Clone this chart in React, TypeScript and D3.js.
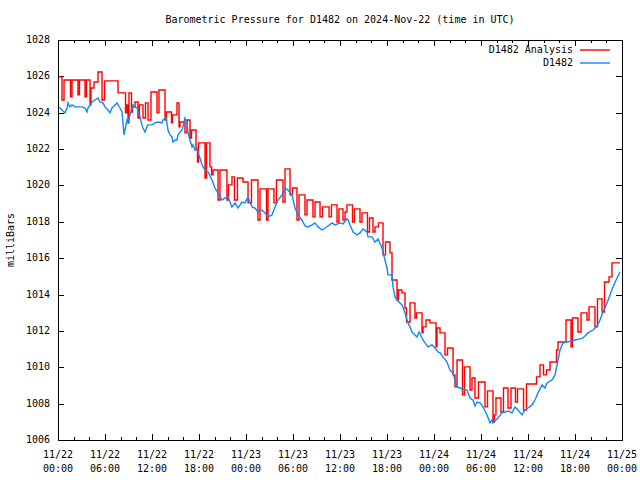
import React from "react";
import * as d3 from "d3";

const titleText = "Barometric Pressure for D1482 on 2024-Nov-22 (time in UTC)";
const yAxisLabel = "milliBars";
const seriesNames = ["D1482 Analysis", "D1482"];
const seriesColors = ["#ff0000", "#0f87ff"];

const xTickDates = ["11/22", "11/22", "11/22", "11/22", "11/23", "11/23", "11/23", "11/23", "11/24", "11/24", "11/24", "11/24", "11/25"];
const xTickTimes = ["00:00", "06:00", "12:00", "18:00", "00:00", "06:00", "12:00", "18:00", "00:00", "06:00", "12:00", "18:00", "00:00"];
const yTicks = [1006, 1008, 1010, 1012, 1014, 1016, 1018, 1020, 1022, 1024, 1026, 1028];

// hours since 2024-11-22 00:00 UTC
const redHours = [
  0, 0.51, 0.77, 1.6, 1.79, 2.55, 2.74, 3.45, 3.64, 4.09, 4.21, 4.6, 5.11, 5.62, 5.94, 7.66, 8.62, 8.81, 8.94, 9.06,
  9.38, 9.51, 9.83, 10.21, 10.4, 10.85, 11.17, 11.49, 11.87, 12.64, 12.89, 13.66, 13.85, 14.49, 14.62, 15.19, 15.45, 15.57, 16.21, 16.47,
  16.85, 17.04, 17.62, 17.81, 17.94, 18.77, 18.96, 19.4, 19.6, 19.79, 20.43, 20.68, 21.57, 21.77, 22.21, 22.53, 22.91, 23.62, 24.26, 24.7,
  25.53, 25.79, 26.62, 26.81, 27.57, 27.89, 28.72, 28.98, 29.62, 29.94, 30.51, 30.77, 31.53, 31.79, 32.55, 32.81, 33.45, 33.77, 34.6, 34.91,
  35.62, 35.87, 36.38, 36.64, 36.89, 37.6, 37.85, 38.55, 38.81, 39.51, 39.77, 40.21, 40.47, 40.91, 41.49, 41.81, 42.38, 42.64, 43.28, 43.47,
  43.91, 44.3, 44.49, 44.94, 45.57, 45.77, 46.47, 46.6, 46.98, 47.49, 48.26, 48.38, 48.77, 49.4, 49.72, 50.43, 50.68, 50.94, 51.64, 51.89,
  52.6, 52.85, 53.23, 53.68, 54.51, 54.83, 55.53, 55.72, 55.91, 56.55, 56.87, 57.45, 57.83, 58.4, 58.66, 59.43, 59.81, 61.09, 61.53, 61.98,
  62.36, 62.81, 63.64, 63.83, 64.85, 65.49, 65.68, 66.38, 66.77, 67.53, 67.79, 68.55, 68.87, 69.45, 69.77, 70.34, 70.72, 71.74,
];
const redValues = [
  1025.97, 1024.7, 1025.8, 1024.87, 1025.8, 1024.98, 1025.8, 1024.87, 1025.8, 1024.43, 1025.36, 1025.69, 1026.24, 1024.7, 1025.75, 1025.09, 1023.99, 1024.43, 1023.44, 1025.09,
  1024.04, 1024.32, 1024.59, 1023.71, 1024.43, 1023.71, 1024.54, 1023.6, 1025.14, 1023.99, 1025.25, 1023.6, 1024.04, 1023.44, 1023.88, 1024.54, 1023.22, 1023.49, 1022.89, 1023.6,
  1022.61, 1023.05, 1021.95, 1021.29, 1022.34, 1020.41, 1022.34, 1021.02, 1020.58, 1020.85, 1019.2, 1020.85, 1019.2, 1020.03, 1020.47, 1019.2, 1020.41, 1020.19, 1019.04, 1020.3,
  1018.1, 1019.81, 1018.1, 1019.81, 1019.04, 1020.3, 1019.09, 1020.91, 1019.48, 1019.86, 1018.1, 1019.48, 1018.38, 1019.2, 1018.27, 1019.09, 1018.27, 1018.82, 1018.27, 1018.93,
  1017.99, 1018.71, 1018.1, 1018.54, 1018.93, 1017.99, 1018.71, 1017.99, 1018.49, 1017.44, 1018.21, 1017.44, 1017.72, 1017.94, 1016.18, 1016.89, 1016.29, 1014.8, 1013.7, 1014.25,
  1014.09, 1013.26, 1012.49, 1013.54, 1012.71, 1012.99, 1011.89, 1012.22, 1012.6, 1012.44, 1011.12, 1012.16, 1011.89, 1010.68, 1011.06, 1009.58, 1008.92, 1010.4, 1008.48, 1010.02,
  1008.75, 1009.41, 1008.31, 1009.19, 1007.82, 1008.7, 1006.99, 1007.38, 1008.31, 1007.54, 1008.86, 1007.76, 1008.86, 1008.09, 1008.81, 1007.65, 1009.08, 1009.47, 1010.13, 1009.58,
  1009.85, 1010.29, 1010.95, 1011.39, 1012.6, 1011.12, 1012.71, 1011.94, 1012.99, 1012.6, 1013.32, 1012.22, 1013.76, 1013.04, 1014.69, 1014.97, 1015.74, 1015.74,
];

const blueHours = [
  0, 0.26, 0.51, 0.89, 1.15, 1.28, 1.53, 1.79, 2.17, 3.06, 3.45, 3.7, 3.83, 4.09, 4.34, 4.72, 5.11, 5.36, 5.74, 6.0,
  6.38, 6.64, 6.89, 7.28, 7.53, 7.91, 8.17, 8.43, 8.81, 8.94, 9.19, 9.45, 9.57, 9.83, 10.09, 10.21, 10.47, 10.72, 10.85, 11.11,
  11.36, 11.49, 12.0, 12.38, 12.77, 13.28, 13.4, 13.79, 13.91, 14.04, 14.3, 14.55, 14.68, 14.94, 15.19, 15.32, 15.83, 15.96, 16.21, 16.47,
  16.6, 16.85, 17.11, 17.23, 17.49, 17.74, 17.87, 18.13, 18.38, 18.77, 19.15, 19.66, 20.04, 20.43, 20.94, 21.32, 21.7, 22.21, 22.6, 22.98,
  23.49, 23.87, 24.26, 24.77, 25.15, 25.53, 26.04, 26.43, 26.81, 27.32, 27.7, 28.09, 28.6, 28.98, 29.36, 29.87, 30.26, 30.64, 31.15, 31.53,
  31.91, 32.43, 32.81, 33.19, 33.7, 34.09, 34.47, 34.98, 35.36, 36.0, 36.38, 36.89, 37.02, 37.28, 37.66, 38.17, 38.55, 38.94, 39.45, 39.57,
  40.09, 40.47, 40.85, 41.36, 41.49, 41.74, 42.0, 42.13, 42.64, 42.77, 43.02, 43.28, 43.53, 43.91, 44.04, 44.3, 44.55, 44.68, 44.94, 45.19,
  45.57, 45.83, 46.09, 46.47, 46.6, 46.85, 47.23, 47.74, 48.13, 48.51, 48.77, 49.15, 49.66, 50.04, 50.43, 50.94, 51.32, 51.7, 52.21, 52.6,
  52.98, 53.23, 53.49, 53.87, 54.26, 54.77, 55.15, 55.4, 55.53, 55.79, 56.17, 56.68, 57.06, 57.45, 57.96, 58.34, 58.72, 59.23, 59.62, 60.0,
  60.51, 60.89, 61.28, 61.79, 62.17, 62.43, 63.06, 63.45, 63.83, 64.09, 64.47, 64.98, 65.62, 66.0, 66.64, 67.02, 67.66, 68.3, 68.81, 69.19,
  69.57, 70.09, 70.47, 70.85, 71.36, 71.74,
];
const blueValues = [
  1024.32, 1024.26, 1024.15, 1023.99, 1024.26, 1024.54, 1024.32, 1024.43, 1024.32, 1024.32, 1024.26, 1024.04, 1024.26, 1024.43, 1024.59, 1024.7, 1024.81, 1024.59, 1024.54, 1024.32,
  1024.15, 1023.99, 1024.26, 1024.43, 1024.54, 1024.26, 1024.04, 1022.78, 1023.6, 1023.49, 1023.88, 1024.26, 1024.43, 1024.32, 1024.26, 1024.15, 1023.77, 1023.33, 1023.16, 1022.94,
  1023.22, 1023.33, 1023.33, 1023.44, 1023.49, 1023.44, 1023.6, 1023.71, 1023.44, 1023.05, 1022.78, 1022.67, 1022.39, 1022.5, 1022.5, 1022.78, 1023.05, 1023.22, 1023.71, 1023.44,
  1022.89, 1022.5, 1022.12, 1022.23, 1021.95, 1022.06, 1021.79, 1021.51, 1021.13, 1020.85, 1020.74, 1020.3, 1019.86, 1019.59, 1019.2, 1019.31, 1019.37, 1018.82, 1019.04, 1018.76,
  1019.09, 1019.04, 1019.37, 1018.82, 1018.76, 1018.54, 1018.65, 1018.49, 1018.27, 1018.38, 1018.82, 1019.2, 1019.48, 1019.86, 1019.75, 1019.48, 1018.76, 1018.38, 1018.1, 1017.77,
  1017.72, 1017.83, 1017.94, 1017.72, 1017.55, 1017.66, 1017.77, 1017.94, 1017.83, 1017.94, 1017.88, 1018.16, 1018.1, 1017.83, 1017.44, 1017.28, 1017.39, 1017.61, 1017.44, 1017.17,
  1017.17, 1016.89, 1017.06, 1016.56, 1016.34, 1015.9, 1015.46, 1015.08, 1015.08, 1014.42, 1013.87, 1013.7, 1013.59, 1013.43, 1013.32, 1012.99, 1012.6, 1012.44, 1012.22, 1011.94,
  1011.78, 1011.67, 1011.94, 1011.61, 1011.5, 1011.34, 1011.12, 1011.23, 1011.06, 1010.84, 1010.79, 1010.57, 1010.29, 1009.85, 1009.69, 1008.92, 1008.86, 1008.81, 1008.75, 1008.31,
  1008.2, 1007.87, 1008.09, 1008.04, 1007.82, 1007.38, 1006.94, 1007.1, 1006.94, 1007.05, 1007.21, 1007.49, 1007.54, 1007.6, 1007.49, 1007.82, 1007.65, 1007.38, 1007.65, 1007.76,
  1007.93, 1008.2, 1008.59, 1009.03, 1008.86, 1009.14, 1009.3, 1009.58, 1010.4, 1010.95, 1011.34, 1011.39, 1011.45, 1011.5, 1011.56, 1011.61, 1011.89, 1012.05, 1012.27, 1012.6,
  1013.04, 1013.54, 1013.98, 1014.42, 1014.91, 1015.24,
];

const W = 640;
const H = 480;
const M = { left: 58, right: 622, top: 40, bottom: 440 };
const FONT = "'DejaVu Sans Mono', 'Liberation Mono', monospace";

export default function App() {
  const x = d3.scaleLinear().domain([0, 72]).range([M.left, M.right]);
  const y = d3.scaleLinear().domain([1006, 1028]).range([M.bottom, M.top]);

  const red = redHours.map((h, i) => [h, redValues[i]] as [number, number]);
  const blue = blueHours.map((h, i) => [h, blueValues[i]] as [number, number]);

  const redLine = d3
    .line<[number, number]>()
    .x((d) => x(d[0]))
    .y((d) => y(d[1]))
    .curve(d3.curveStepAfter);
  const blueLine = d3
    .line<[number, number]>()
    .x((d) => x(d[0]))
    .y((d) => y(d[1]));

  const majorX = d3.range(0, 73, 6);
  const minorX = d3.range(0, 73, 2).filter((h) => h % 6 !== 0);
  const px = (v: number) => Math.round(v) + 0.5;

  return (
    <svg
      width={W}
      height={H}
      style={{ position: "absolute", left: 0, top: 0, background: "#fff" }}
      fontFamily={FONT}
      fontSize={10}
    >
      <rect x={0} y={0} width={W} height={H} fill="#fff" />
      <text x={(M.left + M.right) / 2} y={20} textAnchor="middle" dominantBaseline="middle" fill="#000">
        {titleText}
      </text>
      <text
        transform={`translate(11,${(M.top + M.bottom) / 2}) rotate(-90)`}
        textAnchor="middle"
        dominantBaseline="middle"
        fill="#000"
      >
        {yAxisLabel}
      </text>

      {/* y ticks */}
      {yTicks.map((t) => (
        <g key={"y" + t}>
          <line x1={M.left} x2={M.left + 6} y1={px(y(t))} y2={px(y(t))} stroke="#000" />
          <line x1={M.right - 6} x2={M.right} y1={px(y(t))} y2={px(y(t))} stroke="#000" />
          <text x={50} y={y(t)} textAnchor="end" dominantBaseline="middle" fill="#000">
            {t}
          </text>
        </g>
      ))}

      {/* x ticks */}
      {majorX.map((h, i) => (
        <g key={"x" + h}>
          <line x1={px(x(h))} x2={px(x(h))} y1={M.bottom} y2={M.bottom - 6} stroke="#000" />
          <line x1={px(x(h))} x2={px(x(h))} y1={M.top} y2={M.top + 6} stroke="#000" />
          <text x={x(h)} y={455} textAnchor="middle" dominantBaseline="middle" fill="#000">
            {xTickDates[i]}
          </text>
          <text x={x(h)} y={469} textAnchor="middle" dominantBaseline="middle" fill="#000">
            {xTickTimes[i]}
          </text>
        </g>
      ))}
      {minorX.map((h) => (
        <g key={"mx" + h}>
          <line x1={px(x(h))} x2={px(x(h))} y1={M.bottom} y2={M.bottom - 3} stroke="#000" />
          <line x1={px(x(h))} x2={px(x(h))} y1={M.top} y2={M.top + 3} stroke="#000" />
        </g>
      ))}

      <path d={redLine(red) || ""} fill="none" stroke={seriesColors[0]} strokeWidth={1.4} />
      <path d={blueLine(blue) || ""} fill="none" stroke={seriesColors[1]} strokeWidth={1.4} />

      {/* legend */}
      {seriesNames.map((name, i) => (
        <g key={name}>
          <text x={573} y={49.5 + i * 13.5} textAnchor="end" dominantBaseline="middle" fill="#000">
            {name}
          </text>
          <line x1={580} x2={610} y1={50 + i * 13} y2={50 + i * 13} stroke={seriesColors[i]} strokeWidth={1.4} />
        </g>
      ))}

      <rect
        x={M.left + 0.5}
        y={M.top + 0.5}
        width={M.right - M.left}
        height={M.bottom - M.top}
        fill="none"
        stroke="#000"
      />
    </svg>
  );
}
